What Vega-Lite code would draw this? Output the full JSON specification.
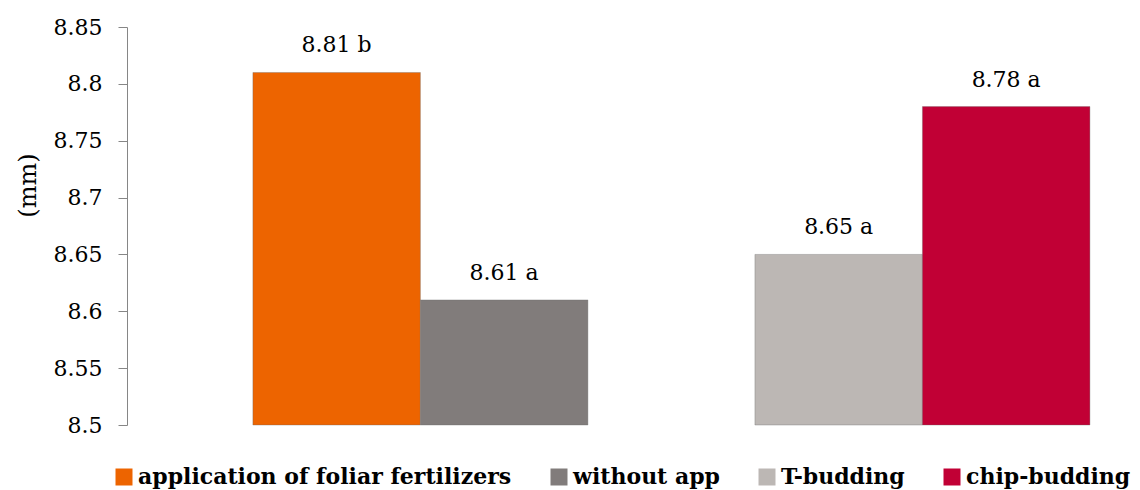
{
  "$schema": "https://vega.github.io/schema/vega-lite/v6.json",
  "autosize": {"type": "none"},
  "width": 1004,
  "height": 398,
  "padding": {"left": 127, "top": 27, "right": 9, "bottom": 65},
  "background": "white",
  "config": {"view": {"stroke": null}},
  "data": {
    "values": [
      {"group": "foliar", "pos": "left", "series": "application of foliar fertilizers", "value": 8.81, "label": "8.81 b"},
      {"group": "foliar", "pos": "right", "series": "without app", "value": 8.61, "label": "8.61 a"},
      {"group": "budding", "pos": "left", "series": "T-budding", "value": 8.65, "label": "8.65 a"},
      {"group": "budding", "pos": "right", "series": "chip-budding", "value": 8.78, "label": "8.78 a"}
    ]
  },
  "encoding": {
    "x": {
      "field": "group",
      "type": "nominal",
      "sort": ["foliar", "budding"],
      "scale": {"paddingInner": 0.3327, "paddingOuter": 0.1663, "align": 0.754},
      "axis": null
    },
    "xOffset": {
      "field": "pos",
      "type": "nominal",
      "sort": ["left", "right"],
      "scale": {"paddingInner": 0, "paddingOuter": 0}
    }
  },
  "layer": [
    {
      "mark": {"type": "bar", "stroke": "#6b6b6b", "strokeOpacity": 0.35, "strokeWidth": 1},
      "encoding": {
        "y": {
          "field": "value",
          "type": "quantitative",
          "scale": {"domain": [8.5, 8.85], "zero": false, "nice": false},
          "axis": {
            "title": "(mm)",
            "values": [8.5, 8.55, 8.6, 8.65, 8.7, 8.75, 8.8, 8.85],
            "format": ".3~r",
            "grid": false,
            "domainColor": "#868686",
            "tickColor": "#868686",
            "tickSize": 9,
            "labelPadding": 16,
            "labelFont": "DejaVu Serif",
            "labelFontSize": 22,
            "labelColor": "#000000",
            "titleFont": "DejaVu Serif",
            "titleFontSize": 24,
            "titleFontWeight": "normal",
            "titleColor": "#000000",
            "titleX": -87,
            "titleY": 158
          }
        },
        "y2": {"datum": 8.5},
        "color": {
          "field": "series",
          "type": "nominal",
          "scale": {
            "domain": ["application of foliar fertilizers", "without app", "T-budding", "chip-budding"],
            "range": ["#ED6400", "#817C7B", "#BCB7B4", "#C10035"]
          },
          "legend": {
            "title": null,
            "orient": "none",
            "direction": "horizontal",
            "columns": 4,
            "legendX": -14,
            "legendY": 439,
            "symbolType": "square",
            "symbolSize": 289,
            "symbolStrokeWidth": 0,
            "symbolOpacity": 1,
            "labelFont": "DejaVu Serif",
            "labelFontSize": 22,
            "labelFontWeight": "bold",
            "labelColor": "#000000",
            "labelLimit": 500,
            "labelOffset": 3,
            "columnPadding": 36
          }
        }
      }
    },
    {
      "mark": {"type": "text", "baseline": "alphabetic", "dy": -20, "font": "DejaVu Serif", "fontSize": 22, "color": "#000000"},
      "encoding": {
        "y": {"field": "value", "type": "quantitative"},
        "text": {"field": "label"}
      }
    }
  ]
}
